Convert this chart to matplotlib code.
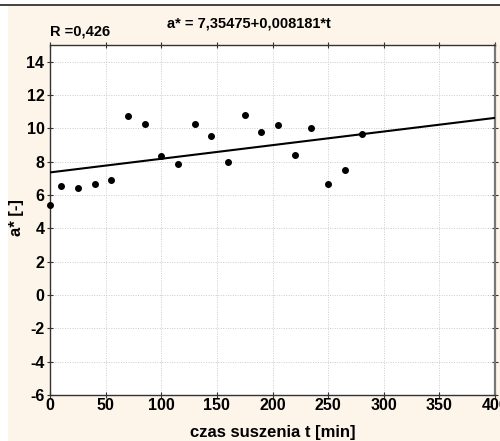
import matplotlib
matplotlib.use("Agg")
import matplotlib.pyplot as plt
import numpy as np
from matplotlib.patches import Rectangle
from matplotlib.lines import Line2D
from matplotlib import font_manager

t_values = [0, 10, 25, 40, 55, 70, 85, 100, 115, 130, 145, 160, 175, 190, 205, 220, 235, 250, 265, 280]
a_values = [5.42, 6.52, 6.40, 6.68, 6.88, 10.74, 10.28, 8.32, 7.88, 10.28, 9.54, 7.98, 10.8, 9.76, 10.22, 8.40, 10.0, 6.68, 7.5, 9.66]
intercept = 7.35475
slope = 0.008181
x_ticks = [0, 50, 100, 150, 200, 250, 300, 350, 400]
y_ticks = [-6, -4, -2, 0, 2, 4, 6, 8, 10, 12, 14]

names = {f.name for f in font_manager.fontManager.ttflist}
fam = ['Liberation Sans Narrow', 'Liberation Sans', 'DejaVu Sans'] if 'Liberation Sans Narrow' in names else ['Liberation Sans', 'DejaVu Sans']
plt.rcParams['font.family'] = fam
plt.rcParams['axes.unicode_minus'] = False

fig = plt.figure(figsize=(5.0, 4.41), dpi=100)
fig.patch.set_facecolor('white')
bg = Rectangle((8/500, 0), 1, 1 - 5/441, transform=fig.transFigure, facecolor='#FDF5EA', edgecolor='none', zorder=-10)
fig.patches.append(bg)
fig.lines.append(Line2D([0, 1], [1 - 5/441, 1 - 5/441], transform=fig.transFigure, color='#222222', lw=1.2, zorder=-5))

ax = fig.add_axes([50/500, 1 - 395/441, 445/500, 350/441])
ax.set_zorder(1)
ax.set_facecolor('white')
ax.set_xlim(0, 400)
ax.set_ylim(-6, 15)
ax.set_xticks(x_ticks)
ax.set_yticks(y_ticks)
ax.grid(True, color='#cccccc', linestyle=(0, (1, 1.5)), linewidth=0.7)
ax.set_axisbelow(True)

tt = np.array([0, 400])
ax.plot(tt, intercept + slope * tt, color='black', lw=1.5, zorder=3)
ax.plot(t_values, a_values, 'o', color='black', markersize=4, zorder=4, clip_on=False)

for s in ax.spines.values():
    s.set_color('#333333')
    s.set_linewidth(1.0)
ax.spines['right'].set_color('#777777')
ax.spines['right'].set_linewidth(1.6)

ax.tick_params(axis='both', direction='inout', length=4, width=0.8, colors='#333333',
               labelsize=11.5, labelcolor='black', top=True, right=True)
for lab in ax.get_xticklabels() + ax.get_yticklabels():
    lab.set_fontweight('bold')
ax.tick_params(axis='x', pad=0)
ax.tick_params(axis='y', pad=2)

ax.set_xlabel('czas suszenia t [min]', fontsize=12, fontweight='bold')
ax.set_ylabel('a* [-]', fontsize=12, fontweight='bold')
ax.xaxis.set_label_coords((273 - 50) / 445, (395 - 432) / 350)
ax.yaxis.set_label_coords((16 - 50) / 445, (395 - 218) / 350)
ax.xaxis.label.set_va('center')
ax.yaxis.label.set_va('center')

fig.text(50/500, 1 - 31/441, 'R =0,426', fontsize=10.5, fontweight='bold', va='center', ha='left', family=['Liberation Sans', 'DejaVu Sans'])
fig.text(167/500, 1 - 24/441, 'a* = 7,35475+0,008181*t', fontsize=10.5, fontweight='bold', va='center', ha='left', family=['Liberation Sans', 'DejaVu Sans'])

fig.savefig('out.png', dpi=100, facecolor=fig.get_facecolor())
